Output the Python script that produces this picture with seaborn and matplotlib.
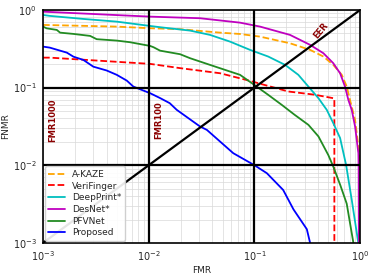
import pandas as pd
import seaborn as sns
import matplotlib
matplotlib.use('Agg')
import matplotlib.pyplot as plt

# --- Data (FMR, FNMR)

akaze_fmr = [1e-3, 1.94e-3, 4.98e-3, 0.0103, 0.0198, 0.0473, 0.073, 0.113, 0.217, 0.336,
             0.449, 0.557, 0.67, 0.747, 0.801, 0.895, 0.962, 1.0]
akaze_fnmr = [0.641, 0.628, 0.61, 0.581, 0.565, 0.51, 0.49, 0.453, 0.372, 0.306,
              0.251, 0.196, 0.146, 0.103, 0.0695, 0.0384, 0.0174, 0.0087]

veri_fmr = [1e-3, 1.16e-3, 0.0103, 0.0198, 0.0473, 0.0908, 0.125, 0.21, 0.37,
            0.557, 0.57, 0.57]
veri_fnmr = [0.243, 0.243, 0.202, 0.178, 0.153, 0.122, 0.108, 0.089, 0.081,
             0.073, 0.072, 1e-3]

deep_fmr = [1e-3, 1.16e-3, 2.4e-3, 4.98e-3, 0.0103, 0.0128, 0.0246, 0.038, 0.0587, 0.0908,
            0.135, 0.195, 0.26, 0.324, 0.403, 0.483, 0.557, 0.646, 0.737, 0.8,
            0.832, 0.96]
deep_fnmr = [0.862, 0.838, 0.766, 0.707, 0.622, 0.599, 0.542, 0.477, 0.391, 0.306,
             0.251, 0.196, 0.146, 0.103, 0.073, 0.0517, 0.0348, 0.0224, 0.01, 0.005,
             0.0036, 0.001]

des_fmr = [1e-3, 0.0103, 0.0306, 0.073, 0.113, 0.217, 0.336, 0.449, 0.557, 0.646,
           0.719, 0.773, 0.832, 0.895, 0.962, 0.967, 0.972]
des_fnmr = [0.95, 0.82, 0.782, 0.686, 0.61, 0.477, 0.355, 0.277, 0.206, 0.153,
            0.103, 0.0695, 0.0517, 0.0316, 0.0143, 0.0096, 0.001]

pfv_fmr = [1e-3, 1.08e-3, 1.35e-3, 1.45e-3, 1.94e-3, 2.79e-3, 3.22e-3, 4.98e-3, 6.65e-3,
           0.0103, 0.0111, 0.0128, 0.0198, 0.0246, 0.038, 0.0587, 0.073, 0.1, 0.135,
           0.181, 0.24, 0.324, 0.403, 0.5, 0.557, 0.65, 0.746, 0.863]
pfv_fnmr = [0.61, 0.58, 0.553, 0.51, 0.491, 0.463, 0.42, 0.403, 0.384,
            0.344, 0.331, 0.299, 0.269, 0.239, 0.196, 0.161, 0.146, 0.108, 0.0806,
            0.06, 0.0446, 0.0331, 0.0235, 0.0135, 0.0096, 0.0055, 0.0032, 0.001]

prop_fmr = [1e-3, 1.16e-3, 1.45e-3, 1.68e-3, 1.94e-3, 2.41e-3, 2.99e-3, 4.0e-3, 4.98e-3,
            6.2e-3, 7.15e-3, 0.0103, 0.0128, 0.0158, 0.0184, 0.0305, 0.0355, 0.063,
            0.1, 0.131, 0.187, 0.234, 0.313, 0.336]
prop_fnmr = [0.337, 0.327, 0.299, 0.282, 0.25, 0.227, 0.186, 0.166, 0.146,
             0.123, 0.103, 0.0847, 0.0733, 0.063, 0.0517, 0.0316, 0.0285, 0.0143,
             0.01, 0.0079, 0.0048, 0.0027, 0.0015, 0.001]

series = [
    ('A-KAZE', akaze_fmr, akaze_fnmr, 'orange', '--'),
    ('VeriFinger', veri_fmr, veri_fnmr, 'red', '--'),
    ('DeepPrint*', deep_fmr, deep_fnmr, 'c', '-'),
    ('DesNet*', des_fmr, des_fnmr, 'm', '-'),
    ('PFVNet', pfv_fmr, pfv_fnmr, 'forestgreen', '-'),
    ('Proposed', prop_fmr, prop_fnmr, 'blue', '-'),
]

sns.set_style('whitegrid')
fig = plt.figure(figsize=(3.74, 2.76), dpi=100)
ax = fig.add_axes([0.115, 0.12, 0.848, 0.844])

for name, x, y, color, ls in series:
    df = pd.DataFrame({'FMR': x, 'FNMR': y})
    sns.lineplot(data=df, x='FMR', y='FNMR', ax=ax, color=color, linestyle=ls,
                 lw=1.3, label=name, sort=False, estimator=None)

# reference lines
ax.plot([1e-3, 1], [1e-3, 1], color='black', lw=1.6)
for v in [1e-2, 1e-1]:
    ax.axhline(v, color='black', lw=1.6)
    ax.axvline(v, color='black', lw=1.6)

ax.set_xscale('log')
ax.set_yscale('log')
ax.set_xlim(1e-3, 1)
ax.set_ylim(1e-3, 1)
ax.grid(which='major', color='0.78', lw=0.6)
ax.grid(which='minor', color='0.85', lw=0.5)
ax.tick_params(labelsize=7, pad=1)
ax.set_xlabel('FMR', fontsize=6.5, labelpad=2)
ax.set_ylabel('FNMR', fontsize=6.5, labelpad=2)
for s in ax.spines.values():
    s.set_color('black')
    s.set_linewidth(1.2)

ax.text(1.12e-3, 0.038, 'FMR1000', rotation=90, color='darkred', fontsize=6,
        fontweight='bold', ha='left', va='center')
ax.text(1.12e-2, 0.038, 'FMR100', rotation=90, color='darkred', fontsize=6,
        fontweight='bold', ha='left', va='center')
ax.text(0.43, 0.55, 'EER', rotation=50, color='darkred', fontsize=6,
        fontweight='bold', ha='center', va='center')

ax.legend(loc='lower left', fontsize=6.5, framealpha=0.9, borderaxespad=0.2,
          handlelength=1.8, handletextpad=0.8, labelspacing=0.3)

fig.savefig('out.png', dpi=100)
